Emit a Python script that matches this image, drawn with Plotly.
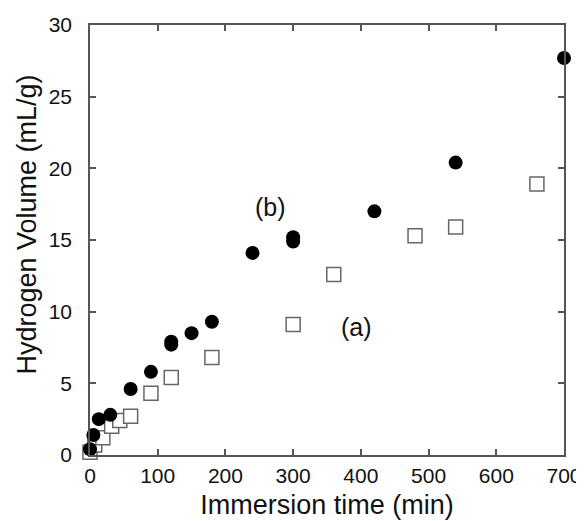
import plotly.graph_objects as go

# (b) filled circles
b_time = [0, 5, 13, 30, 60, 90, 120, 120, 150, 180, 240, 300, 300, 420, 540, 700]
b_vol = [0.4, 1.4, 2.5, 2.8, 4.6, 5.8, 7.7, 7.9, 8.5, 9.3, 14.1, 14.9, 15.2, 17.0, 20.4, 27.7]

# (a) open squares
a_time = [0, 7, 19, 32, 44, 60, 90, 120, 180, 300, 360, 480, 540, 660]
a_vol = [0.2, 0.7, 1.2, 2.0, 2.4, 2.7, 4.3, 5.4, 6.8, 9.1, 12.6, 15.3, 15.9, 18.9]

x_ticks = [0, 100, 200, 300, 400, 500, 600, 700]
y_ticks = [0, 5, 10, 15, 20, 25, 30]

labels = ["(a)", "(b)"]
label_x = [394, 266]
label_y = [8.9, 17.3]

FONT = "Liberation Sans, Arial"
TXT = "#111111"

fig = go.Figure()
fig.add_trace(go.Scatter(
    x=a_time, y=a_vol, mode="markers", cliponaxis=False,
    marker=dict(symbol="square", size=14, color="white",
                line=dict(color="#666666", width=1.5)),
    showlegend=False))
fig.add_trace(go.Scatter(
    x=b_time, y=b_vol, mode="markers", cliponaxis=False,
    marker=dict(symbol="circle", size=14, color="black",
                line=dict(color="black", width=0)),
    showlegend=False))

for t, xx, yy in zip(labels, label_x, label_y):
    fig.add_annotation(x=xx, y=yy, text=t, showarrow=False,
                       font=dict(size=25, color=TXT, family=FONT))

# y-axis title as a rotated annotation
fig.add_annotation(xref="paper", yref="paper", x=-0.132, y=0.537,
                   text="Hydrogen Volume (mL/g)", textangle=-90, showarrow=False,
                   xanchor="center", yanchor="middle",
                   font=dict(size=27, color=TXT, family=FONT))

axis_common = dict(showgrid=False, zeroline=False, showline=True, linecolor="#555555",
                   linewidth=1.5, mirror="ticks", ticks="inside", ticklen=6,
                   tickcolor="#555555", tickwidth=1.5, automargin=False,
                   tickfont=dict(size=21, color=TXT, family=FONT))

fig.update_xaxes(range=[0, 700], tickvals=x_ticks, ticktext=[str(v) for v in x_ticks],
                 ticklabelstandoff=1,
                 title=dict(text="Immersion time (min)", standoff=9,
                            font=dict(size=27, color=TXT, family=FONT)),
                 **axis_common)
fig.update_yaxes(range=[0, 30], tickvals=y_ticks, ticktext=[str(v) for v in y_ticks],
                 ticklabelstandoff=12,
                 **axis_common)

# page body has an 8px margin, so the figure is sized to end at the window edge
fig.update_layout(width=576, height=513, margin=dict(l=82, r=20, t=17, b=66),
                  plot_bgcolor="white", paper_bgcolor="white")

fig.write_html("out.html")
